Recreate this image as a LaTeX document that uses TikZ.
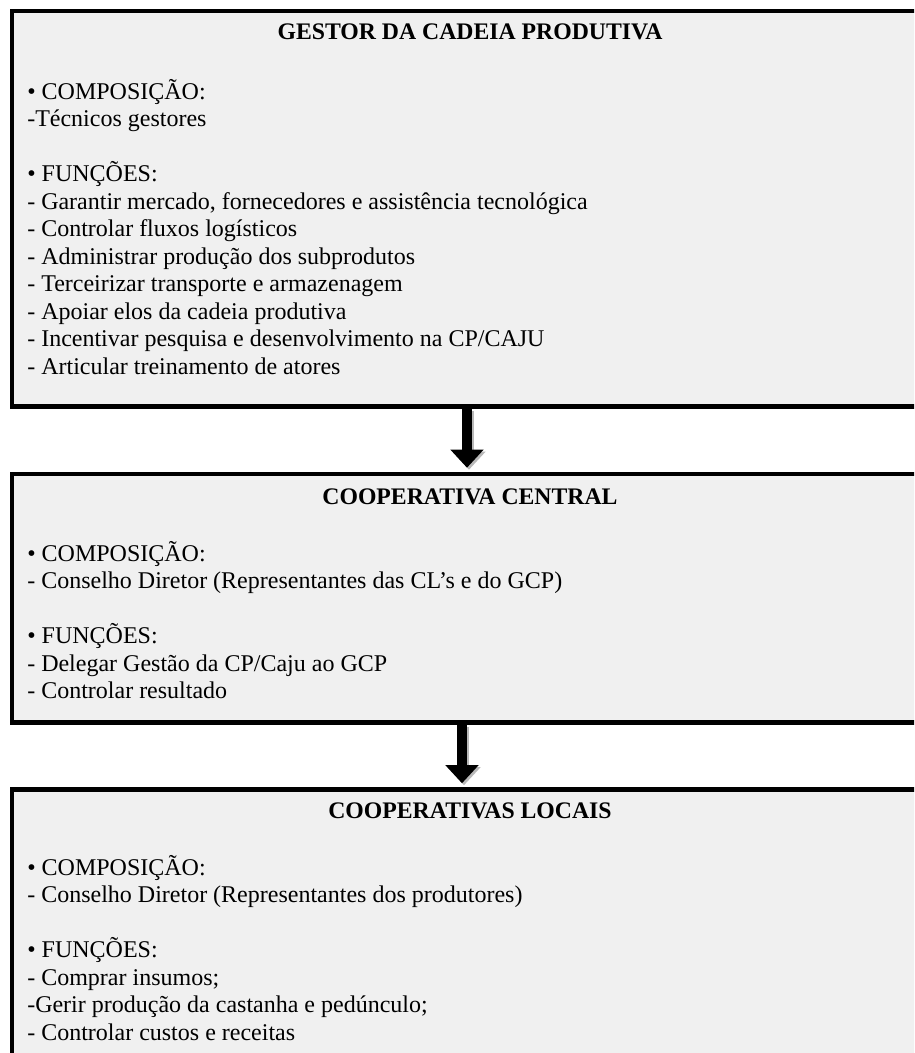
\documentclass[tikz,border=0pt]{standalone}
\usepackage{fontspec}
\setmainfont{Liberation Serif}
\usetikzlibrary{arrows.meta}

\definecolor{cinzaclaro}{RGB}{240,240,240}
\tikzset{
    caixa/.style={draw=black, line width=3.4pt, fill=cinzaclaro, minimum width=687pt, inner sep=0pt},
    titulo/.style={font=\fontsize{17.8}{20}\selectfont\bfseries, inner sep=0pt},
    lista/.style={font=\fontsize{18}{20.6}\selectfont, align=left, anchor=north west, inner sep=0pt},
    seta/.style={line width=7.5pt, -{Triangle[width=24pt,length=13.5pt]}, shorten >=3pt},
}

\begin{document}
\begin{tikzpicture}[x=0.75pt, y=-0.75pt]
    \useasboundingbox (0,0) rectangle (914,1053);
    \clip (0,0) rectangle (914,1053);

    % Caixas
    \node[caixa, minimum height=296.6pt] (gcp) at (470,208.75) {};
    \node[caixa, minimum height=186.4pt] (cc) at (470,598.25) {};
    \node[caixa, minimum height=210pt] (cl) at (470,929.5) {};

    % Titulos
    \node[titulo] (gcp-tit) at (470,32) {GESTOR DA CADEIA PRODUTIVA};
    \node[titulo] (cc-tit) at (470,497) {COOPERATIVA CENTRAL};
    \node[titulo] (cl-tit) at (470,811) {COOPERATIVAS LOCAIS};

    % Composicao e funcoes
    \node[lista] (gcp-txt) at (27,79) {%
        • COMPOSIÇÃO:\\
        -Técnicos gestores\\[20.6pt]
        • FUNÇÕES:\\
        - Garantir mercado, fornecedores e assistência tecnológica\\
        - Controlar fluxos logísticos\\
        - Administrar produção dos subprodutos\\
        - Terceirizar transporte e armazenagem\\
        - Apoiar elos da cadeia produtiva\\
        - Incentivar pesquisa e desenvolvimento na CP/CAJU\\
        - Articular treinamento de atores};
    \node[lista] (cc-txt) at (27,541) {%
        • COMPOSIÇÃO:\\
        - Conselho Diretor (Representantes das CL’s e do GCP)\\[20.6pt]
        • FUNÇÕES:\\
        - Delegar Gestão da CP/Caju ao GCP\\
        - Controlar resultado};
    \node[lista] (cl-txt) at (27,855) {%
        • COMPOSIÇÃO:\\
        - Conselho Diretor (Representantes dos produtores)\\[20.6pt]
        • FUNÇÕES:\\
        - Comprar insumos;\\
        -Gerir produção da castanha e pedúnculo;\\
        - Controlar custos e receitas};

    % Setas (com sombra)
    \draw[seta, gray!55, transform canvas={shift={(1.5pt,-1.5pt)}}] ([xshift=-2.25pt]gcp.south) -- ([xshift=-2.25pt]cc.north);
    \draw[seta] ([xshift=-2.25pt]gcp.south) -- ([xshift=-2.25pt]cc.north);
    \draw[seta, gray!55, transform canvas={shift={(1.5pt,-1.5pt)}}] ([xshift=-6pt]cc.south) -- ([xshift=-6pt]cl.north);
    \draw[seta] ([xshift=-6pt]cc.south) -- ([xshift=-6pt]cl.north);
\end{tikzpicture}
\end{document}
